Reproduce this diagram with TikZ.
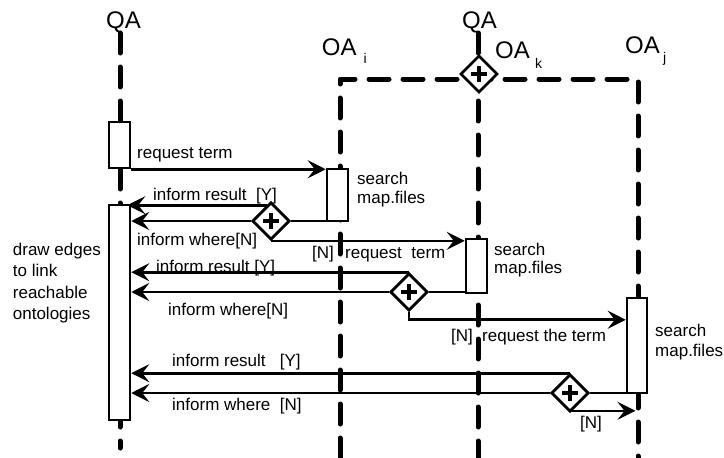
\documentclass[tikz,border=0pt]{standalone}
\usepackage{fontspec}
\setmainfont{Liberation Sans}
\usetikzlibrary{arrows.meta,shapes.geometric,calc}
\begin{document}
\begin{tikzpicture}[x=1pt,y=-1pt,
  life/.style={line width=5pt, line cap=round, line join=round, dash pattern=on 20pt off 14pt},
  actbox/.style={draw, fill=white, line width=2.5pt, inner sep=0pt, minimum width=21pt},
  gate/.style={draw, fill=white, line width=2.6pt, diamond, aspect=1, inner sep=0pt,
    minimum width=37pt, minimum height=37pt,
    path picture={
      \draw[line width=3.6pt] ([xshift=-8pt]path picture bounding box.center) -- ([xshift=8pt]path picture bounding box.center);
      \draw[line width=3.6pt] ([yshift=-8pt]path picture bounding box.center) -- ([yshift=8pt]path picture bounding box.center);}},
  msg/.style={line width=2.6pt, -{Stealth[length=18pt,width=18pt,inset=7pt]}},
  wire/.style={line width=2.6pt},
  lbl/.style={anchor=base west, inner sep=0pt, font=\fontsize{17}{19}\selectfont},
  big/.style={anchor=base west, inner sep=0pt, font=\fontsize{24}{26}\selectfont},
  sub/.style={anchor=base west, inner sep=0pt, font=\fontsize{14}{16}\selectfont}
]
\useasboundingbox (0,0) rectangle (724,458);

% lifelines
\coordinate (qatop) at (120,33);
\coordinate (qabot) at (120,448);
\coordinate (oitop) at (340,79);
\coordinate (oibot) at (340,458);
\coordinate (oktop) at (478,33);
\coordinate (okbot) at (478,458);
\coordinate (ojtop) at (638,79);
\coordinate (ojbot) at (638,458);
\draw[life] (qatop) -- (qabot);
\draw[life] (oibot) -- (oitop) -- (ojtop) -- (ojbot);
\draw[life] (oktop) -- (okbot);

% headers
\node[big] (qaL) at (106,28.3) {QA};
\node[big] (qaT) at (462,28.3) {QA};
\node[big] (oai) at (321.7,55) {OA};
\node[sub] (oaisub) at (363.3,63.3) {i};
\node[big] (oak) at (495,58.3) {OA};
\node[sub] (oaksub) at (535,68.3) {k};
\node[big] (oaj) at (625,53.3) {OA};
\node[sub] (oajsub) at (663,62) {j};

% activation boxes
\node[actbox, minimum height=46pt] (b1) at (119.5,145) {};
\node[actbox, minimum height=52pt] (b2) at (337.5,195) {};
\node[actbox, minimum height=215pt] (b3) at (119.5,312.5) {};
\node[actbox, minimum height=54pt] (bk) at (476.5,266) {};
\node[actbox, minimum height=95pt, minimum width=20pt] (bj) at (637,345.5) {};

% gate positions
\coordinate (g1c) at (271,221);
\coordinate (g2c) at (409,292);
\coordinate (g3c) at (570,393);

\node[gate] (g0) at (479,74) {};
\node[gate] (g1) at (g1c) {};
\node[gate] (g2) at (g2c) {};
\node[gate] (g3) at (g3c) {};

% messages
\draw[msg] (b1.south east) -- (b1.south east -| b2.west);
\draw[wire] (g1.east) -- (g1.east -| b2.west);
\draw[msg] ([shift={(-4,4)}]g1.north) -- ([shift={(-4,4)}]g1.north -| b3.east);
\draw[msg] (g1.west) -- (g1.west -| b3.east);
\draw[msg] (g1.south) -- (g1.south -| bk.west);
\draw[wire] (g2.east) -- (g2.east -| bk.west);
\draw[msg] (g2.north) -- (g2.north -| b3.east);
\draw[msg] (g2.west) -- (g2.west -| b3.east);
\draw[msg] (g2.south) |- ([shift={(0,23)}]bj.north west);
\draw[wire] (g3.east) -- (g3.east -| bj.west);
\draw[msg] (g3.north) -- (g3.north -| b3.east);
\draw[msg] (g3.west) -- (g3.west -| b3.east);
\draw[msg, shorten >=2.5pt] ([shift={(0,-2)}]g3.south) -- ([shift={(0,-2)}]g3.south -| ojbot);

% redraw gates on top
\node[gate] (g1t) at (g1c) {};
\node[gate] (g2t) at (g2c) {};
\node[gate] (g3t) at (g3c) {};

% labels
\node[lbl] (t1) at (137,158) {request term};
\node[lbl] (s2a) at (357,184.5) {search};
\node[lbl] (s2b) at (357,203.3) {map.files};
\node[lbl] (t2) at (153,200) {inform result\ \ [Y]};
\node[lbl] (t3) at (137,245) {inform where[N]};
\node[lbl] (t4) at (312,258) {[N]};
\node[lbl] (t5) at (345,258) {request\ \ term};
\node[lbl] (ska) at (494,255.7) {search};
\node[lbl] (skb) at (494,273.3) {map.files};
\node[lbl] (t6) at (156,272) {inform result [Y]};
\node[lbl] (t7) at (168,315) {inform where[N]};
\node[lbl] (t8) at (451,341.7) {[N]};
\node[lbl] (t9) at (482,341.7) {request the term};
\node[lbl] (sja) at (655,336.7) {search};
\node[lbl] (sjb) at (655,356.7) {map.files};
\node[lbl] (t10) at (172,366.7) {inform result\ \ \ [Y]};
\node[lbl] (t11) at (172,410) {inform where\ \ [N]};
\node[lbl] (t12) at (580,428) {[N]};
\node[lbl] (la) at (12.7,255) {draw edges};
\node[lbl] (lb) at (12.7,276.7) {to link};
\node[lbl] (lc) at (12.7,298.3) {reachable};
\node[lbl] (ld) at (12.7,319.3) {ontologies};
\end{tikzpicture}
\end{document}
